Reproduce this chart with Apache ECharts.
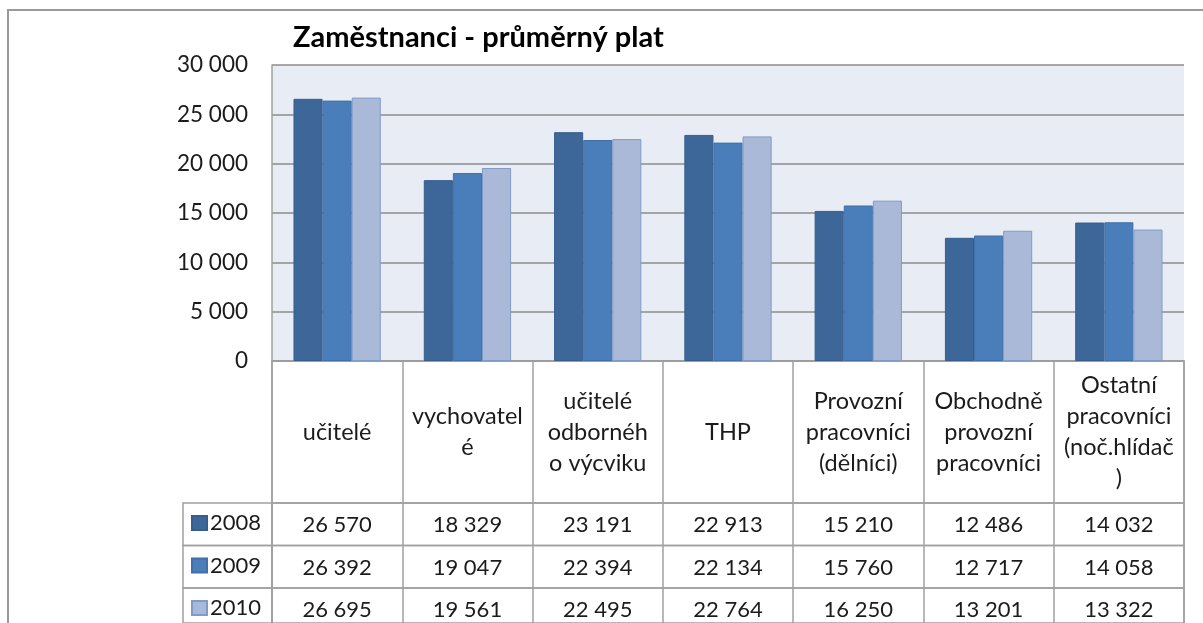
<!DOCTYPE html>
<html>
<head>
<meta charset="utf-8">
<script src="https://cdn.jsdelivr.net/npm/echarts@6/dist/echarts.min.js"></script>
<style>
  html, body { margin: 0; padding: 0; background: #fff; }
  #chart { width: 1203px; height: 623px; }
</style>
</head>
<body>
<div id="chart"></div>
<script>
    const title = "Zaměstnanci - průměrný plat";

    // category names, broken into lines as in the table header
    const categories = [
        "učitelé",
        "vychovatel\né",
        "učitelé\nodbornéh\no výcviku",
        "THP",
        "Provozní\npracovníci\n(dělníci)",
        "Obchodně\nprovozní\npracovníci",
        "Ostatní\npracovníci\n(noč.hlídač\n)"
    ];

    const years = ["2008", "2009", "2010"];

    const values2008 = [26570, 18329, 23191, 22913, 15210, 12486, 14032];
    const values2009 = [26392, 19047, 22394, 22134, 15760, 12717, 14058];
    const values2010 = [26695, 19561, 22495, 22764, 16250, 13201, 13322];

    const yTicks = [0, 5000, 10000, 15000, 20000, 25000, 30000];

    const seriesValues = [values2008, values2009, values2010];
    const fills = ["#3d6699", "#4a7ebb", "#aab9d8"];
    const borders = ["#365d8d", "#416fa6", "#7f9cc9"];

    const FONT = "Lato";
    const TEXT = "#1b1b1b";
    const LINE = "#a0a0a0";

    function fmt(v) {
        return String(v).replace(/\B(?=(\d{3})+(?!\d))/g, " ");
    }

    // layout
    const plotLeft = 272;
    const plotRight = 19;
    const plotTop = 65;
    const plotBottomY = 361;
    const headerH = 142;
    const rowH = 42.5;
    const legendLeft = 183;

    const chart = echarts.init(document.getElementById("chart"), null, { renderer: "canvas" });

    const grids = [
        {
            left: plotLeft,
            right: plotRight,
            top: plotTop,
            height: plotBottomY - plotTop,
            show: true,
            backgroundColor: "#e8ecf4",
            borderWidth: 0
        },
        {
            left: plotLeft,
            right: plotRight,
            top: plotBottomY,
            height: headerH,
            show: true,
            borderColor: LINE,
            borderWidth: 1.5
        }
    ];

    const xAxes = [
        {
            type: "category",
            gridIndex: 0,
            data: categories,
            axisLine: { lineStyle: { color: LINE, width: 1.5 } },
            axisTick: { show: false },
            axisLabel: { show: false }
        },
        {
            type: "category",
            gridIndex: 1,
            data: categories,
            axisLine: { show: false },
            axisTick: { show: false },
            splitLine: { show: true, interval: 0, lineStyle: { color: LINE, width: 1.5 } },
            axisLabel: {
                inside: true,
                interval: 0,
                margin: headerH / 2,
                verticalAlign: "middle",
                align: "center",
                fontFamily: FONT,
                fontSize: 23.5,
                lineHeight: 31,
                color: TEXT
            }
        }
    ];

    const yAxes = [
        {
            type: "value",
            gridIndex: 0,
            min: yTicks[0],
            max: yTicks[yTicks.length - 1],
            interval: yTicks[1] - yTicks[0],
            axisLine: { show: true, lineStyle: { color: LINE, width: 1.5 } },
            axisTick: { show: false },
            splitLine: { lineStyle: { color: "#8c8c8c", width: 1.5 } },
            axisLabel: {
                margin: 24,
                fontFamily: FONT,
                fontSize: 22.5,
                color: TEXT,
                formatter: v => fmt(v)
            }
        },
        { type: "value", gridIndex: 1, show: false }
    ];

    const legends = [];

    // table rows: one grid each, plus a legend cell to the left
    seriesValues.forEach((vals, i) => {
        const top = plotBottomY + headerH + i * rowH;
        grids.push({
            left: plotLeft,
            right: plotRight,
            top: top,
            height: rowH,
            show: true,
            borderColor: LINE,
            borderWidth: 1.5
        });
        xAxes.push({
            type: "category",
            gridIndex: grids.length - 1,
            position: "top",
            data: categories,
            axisLine: { show: false },
            axisTick: { show: false },
            splitLine: { show: true, interval: 0, lineStyle: { color: LINE, width: 1.5 } },
            axisLabel: {
                inside: true,
                interval: 0,
                margin: rowH / 2 + 1,
                verticalAlign: "middle",
                fontFamily: FONT,
                fontSize: 22,
                color: TEXT,
                formatter: (name, idx) => fmt(vals[idx])
            }
        });
        yAxes.push({ type: "value", gridIndex: grids.length - 1, show: false });

        grids.push({
            left: legendLeft,
            width: plotLeft - legendLeft,
            top: top,
            height: rowH,
            show: true,
            borderColor: LINE,
            borderWidth: 1.5
        });
        xAxes.push({ type: "category", gridIndex: grids.length - 1, data: [""], show: false });
        yAxes.push({ type: "value", gridIndex: grids.length - 1, show: false });

        legends.push({
            left: 191,
            top: top + 9,
            padding: 0,
            itemWidth: 15,
            itemHeight: 14,
            icon: "rect",
            selectedMode: false,
            textStyle: {
                fontFamily: FONT,
                fontSize: 22,
                color: TEXT,
                padding: [0, 0, 0, -2]
            },
            data: [years[i]]
        });
    });

    const option = {
        animation: false,
        backgroundColor: "#fff",
        title: {
            text: title,
            left: 288,
            top: 18,
            textStyle: {
                fontFamily: FONT,
                fontSize: 29,
                fontWeight: "bold",
                color: "#000"
            }
        },
        legend: legends,
        grid: grids,
        xAxis: xAxes,
        yAxis: yAxes,
        series: seriesValues.map((vals, i) => ({
            name: years[i],
            type: "bar",
            xAxisIndex: 0,
            yAxisIndex: 0,
            barGap: "0%",
            barCategoryGap: "33%",
            itemStyle: {
                color: fills[i],
                borderColor: borders[i],
                borderWidth: 1
            },
            data: vals
        })),
        graphic: [
            {
                type: "rect",
                silent: true,
                shape: { x: 8, y: 10, width: 1400, height: 800 },
                style: { fill: null, stroke: "#9a9a9a", lineWidth: 2 }
            }
        ]
    };

    chart.setOption(option);
</script>
</body>
</html>
